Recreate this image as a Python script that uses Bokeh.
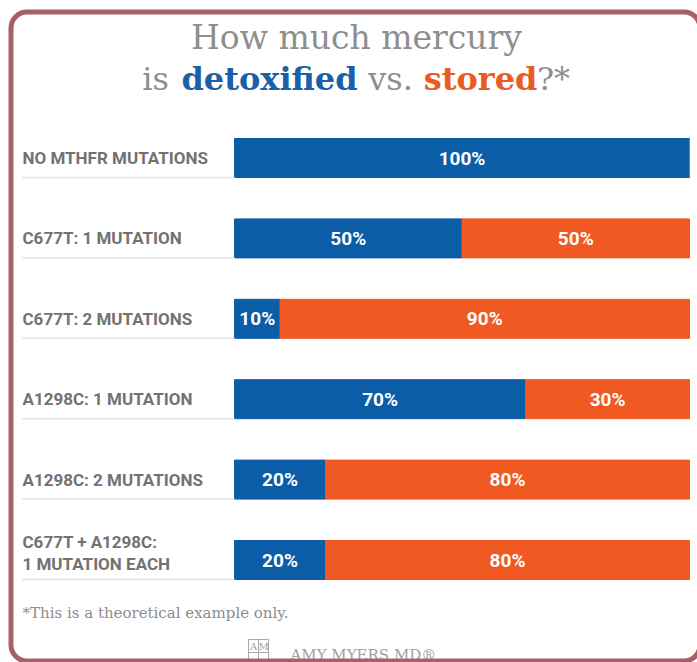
from bokeh.plotting import figure
from bokeh.models import Range1d, ColumnDataSource, BoxAnnotation
from bokeh.core.properties import value
from bokeh.embed import file_html
from bokeh.resources import INLINE

# ---- data ----
categories = ["NO MTHFR MUTATIONS", "C677T: 1 MUTATION", "C677T: 2 MUTATIONS",
              "A1298C: 1 MUTATION", "A1298C: 2 MUTATIONS", "C677T + A1298C:\n1 MUTATION EACH"]
detoxified_bar = [100, 50, 10, 64, 20, 20]       # bar lengths as drawn
detoxified_label = ["100%", "50%", "10%", "70%", "20%", "20%"]
stored_label = ["", "50%", "90%", "30%", "80%", "80%"]
stored_bar = [100 - d for d in detoxified_bar]

BLUE = "#0b5da8"
ORANGE = "#f05a22"
GRAY_LABEL = "#727272"
GRAY_TITLE = "#8e8e8e"

W, H = 697, 662
# page-pixel to data helpers
def PX(X):
    return (X - 234) / 4.55

def PY(Y):
    return (Y - 157.5) / 80.4

p = figure(width=W, height=H, output_backend="svg", toolbar_location=None,
           x_range=Range1d(PX(0), PX(W)), y_range=Range1d(PY(H), PY(0)),
           min_border=0, x_axis_location=None, y_axis_location=None)
p.grid.visible = False
p.outline_line_color = None
p.background_fill_color = "white"
p.border_fill_color = "white"

rows = list(range(len(categories)))
src = ColumnDataSource(dict(
    y=rows, cat=categories,
    d_right=detoxified_bar,
    s_left=detoxified_bar, s_right=[d + s for d, s in zip(detoxified_bar, stored_bar)],
    d_mid=[d / 2 for d in detoxified_bar],
    s_mid=[d + s / 2 for d, s in zip(detoxified_bar, stored_bar)],
    d_lab=detoxified_label, s_lab=stored_label,
    lab_off=[-7 if "\n" in c else 0 for c in categories],
    sep_y=[r + 0.2425 for r in rows],
))

BAR_H = 39 / 80.4
p.hbar(y="y", left=0, right="d_right", height=BAR_H, color=BLUE, source=src)
p.hbar(y="y", left="s_left", right="s_right", height=BAR_H, color=ORANGE, source=src)

# separator lines under category labels
p.segment(x0=PX(22), x1=0, y0="sep_y", y1="sep_y", line_color="#e2e2e2",
          line_width=1.5, source=src)

# category labels
p.text(x=PX(22), y="y", text="cat", y_offset="lab_off", source=src,
       text_font=value("Roboto"), text_font_style="bold", text_font_size="17px",
       text_color=GRAY_LABEL, text_baseline="middle", text_align="left",
       text_line_height=1.1)

# value labels
p.text(x="d_mid", y="y", text="d_lab", source=src, text_font=value("Roboto"),
       text_font_style="bold", text_font_size="19px", text_color="white",
       text_baseline="middle", text_align="center")
p.text(x="s_mid", y="y", text="s_lab", source=src, text_font=value("Roboto"),
       text_font_style="bold", text_font_size="19px", text_color="white",
       text_baseline="middle", text_align="center")

# title
SERIF = value("DejaVu Serif")
p.text(x=[PX(356)], y=[PY(37)], text=["How much mercury"], text_font=SERIF,
       text_font_size="33px", text_color=GRAY_TITLE, text_align="center",
       text_baseline="alphabetic")
pieces = [("is", 155, GRAY_TITLE, "normal"),
          ("detoxified", 269, "#1b5fa6", "bold"),
          ("vs.", 390, GRAY_TITLE, "normal"),
          ("stored", 480, "#ec5a24", "bold"),
          ("?*", 553, GRAY_TITLE, "normal")]
for txt, cx, col, st in pieces:
    p.text(x=[PX(cx)], y=[PY(78)], text=[txt], text_font=SERIF, text_font_size="32px",
           text_color=col, text_font_style=st, text_align="center",
           text_baseline="alphabetic")

# footnote
p.text(x=[PX(22)], y=[PY(612)], text=["*This is a theoretical example only."],
       text_font=SERIF, text_font_size="15px", text_color="#8c8c8c",
       text_align="left", text_baseline="middle")

# logo
p.quad(left=PX(248), right=PX(268), top=PY(639), bottom=PY(665), fill_color=None,
       line_color="#a8a8a8", line_width=1)
p.segment(x0=[PX(258)], x1=[PX(258)], y0=[PY(639)], y1=[PY(665)],
          line_color="#a8a8a8", line_width=1)
p.segment(x0=[PX(248)], x1=[PX(268)], y0=[PY(652)], y1=[PY(652)],
          line_color="#a8a8a8", line_width=1)
p.text(x=[PX(253), PX(263)], y=[PY(646), PY(646)], text=["A", "M"], text_font=SERIF,
       text_font_size="10px", text_color="#a0a0a0", text_align="center",
       text_baseline="middle")
p.text(x=[PX(290)], y=[PY(645)], text=["AMY MYERS MD®"], text_font=SERIF,
       text_font_size="15px", text_color="#a0a0a0", text_align="left",
       text_baseline="top")

# rounded card border
p.add_layout(BoxAnnotation(left=PX(10.5), right=PX(699.5), top=PY(11.5), bottom=PY(660.5),
                           fill_alpha=0, line_alpha=1.0, line_color="#a75f68",
                           line_width=5, border_radius=16))

open("out.html", "w").write(file_html(p, INLINE))
